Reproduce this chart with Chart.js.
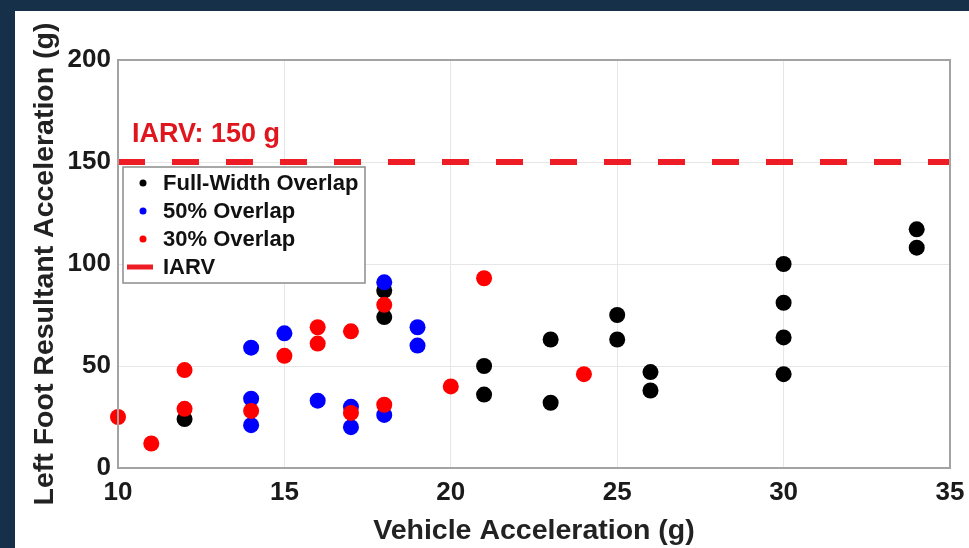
<!DOCTYPE html>
<html>
<head>
<meta charset="utf-8">
<script src="https://cdn.jsdelivr.net/npm/chart.js@4.4.1/dist/chart.umd.min.js"></script>
<style>
  html, body { margin: 0; padding: 0; }
  body { width: 969px; height: 548px; background: #17304a; position: relative; overflow: hidden; }
  #panel { position: absolute; left: 15px; top: 11px; width: 954px; height: 537px; background: #fff; }
</style>
</head>
<body>
<div id="panel"><canvas id="myChart" width="954" height="537"></canvas></div>
<script>
// data
let fullX = [12, 18, 18, 21, 21, 23, 23, 25, 25, 26, 26, 30, 30, 30, 30, 34, 34];
let fullY = [24, 87, 74, 50, 36, 63, 32, 75, 63, 47, 38, 100, 81, 64, 46, 117, 108];
let blueX = [14, 14, 14, 15, 16, 17, 17, 18, 18, 19, 19];
let blueY = [59, 34, 21, 66, 33, 30, 20, 91, 26, 69, 60];
let redX = [10, 11, 12, 12, 14, 15, 16, 16, 17, 17, 18, 18, 20, 21, 24];
let redY = [25, 12, 48, 29, 28, 55, 69, 61, 67, 27, 80, 31, 40, 93, 46];
let iarvX = [10, 35];
let iarvY = [150, 150];
let labels = ['Full-Width Overlap', '50% Overlap', '30% Overlap', 'IARV'];
let colors = ['#000000', '#0000ff', '#ff0000', '#ee1c25'];

function pts(xs, ys) {
    let out = [];
    for (var i = 0; i < xs.length; i++) {
        out.push({x: xs[i], y: ys[i]});
    }
    return out;
}

const FONT = '"Liberation Sans", Arial, sans-serif';

// box around plot, legend and IARV note
let extras = {
    id: 'extras',
    afterDatasetsDraw(chart) {
        let ctx = chart.ctx;
        let a = chart.chartArea;
        ctx.save();
        ctx.strokeStyle = '#a3a3a3';
        ctx.lineWidth = 2;
        ctx.strokeRect(a.left, a.top, a.right - a.left, a.bottom - a.top);

        // IARV note
        let yS = chart.scales.y;
        let xS = chart.scales.x;
        ctx.fillStyle = '#e0161e';
        ctx.font = 'bold 27px ' + FONT;
        ctx.textBaseline = 'alphabetic';
        ctx.fillText('IARV: 150 g', xS.getPixelForValue(10) + 14, yS.getPixelForValue(150) - 20);

        // legend
        let lx = 108, ly = 156, lw = 242, lh = 116;
        ctx.fillStyle = '#ffffff';
        ctx.fillRect(lx, ly, lw, lh);
        ctx.strokeStyle = '#8c8c8c';
        ctx.lineWidth = 1.5;
        ctx.strokeRect(lx, ly, lw, lh);
        ctx.font = 'bold 22px ' + FONT;
        ctx.textBaseline = 'middle';
        chart.data.datasets.forEach((ds, i) => {
            let cy = ly + 16 + i * 28;
            if (ds.showLine) {
                ctx.strokeStyle = ds.borderColor;
                ctx.lineWidth = 5;
                ctx.beginPath();
                ctx.moveTo(lx + 4, cy);
                ctx.lineTo(lx + 30, cy);
                ctx.stroke();
            } else {
                ctx.fillStyle = ds.backgroundColor;
                ctx.beginPath();
                ctx.arc(lx + 20, cy, 3.5, 0, Math.PI * 2);
                ctx.fill();
            }
            ctx.fillStyle = '#111111';
            ctx.fillText(ds.label, lx + 40, cy + 1);
        });
        ctx.restore();
    }
};

let tickFont = {family: FONT, size: 26, weight: 'bold'};
let titleFont = {family: FONT, size: 28.5, weight: 'bold'};

let chart = new Chart(document.getElementById('myChart').getContext('2d'), {
    type: 'scatter',
    data: {
        datasets: [
            {label: labels[0], data: pts(fullX, fullY), backgroundColor: colors[0], pointRadius: 8, pointBorderWidth: 0, order: 3, clip: false},
            {label: labels[1], data: pts(blueX, blueY), backgroundColor: colors[1], pointRadius: 8, pointBorderWidth: 0, order: 2, clip: false},
            {label: labels[2], data: pts(redX, redY), backgroundColor: colors[2], pointRadius: 8, pointBorderWidth: 0, order: 1, clip: false},
            {label: labels[3], data: pts(iarvX, iarvY), showLine: true, borderColor: colors[3], backgroundColor: colors[3],
                borderWidth: 6, borderDash: [27, 27], pointRadius: 0, order: 0}
        ]
    },
    options: {
        responsive: false,
        animation: false,
        devicePixelRatio: 1,
        layout: {padding: {top: 49, right: 19, left: 0, bottom: 0}},
        plugins: {
            legend: {display: false},
            tooltip: {enabled: false}
        },
        scales: {
            x: {
                type: 'linear', min: 10, max: 35,
                ticks: {stepSize: 5, padding: 9, font: tickFont, color: '#1a1a1a', maxRotation: 0},
                grid: {color: '#e6e6e6', drawTicks: false},
                border: {display: false},
                title: {display: true, text: 'Vehicle Acceleration (g)', font: titleFont, color: '#222222', padding: {top: 0, bottom: 0}},
                afterFit: s => { s.height = 80; s.paddingLeft = 0; s.paddingRight = 0; }
            },
            y: {
                type: 'linear', min: 0, max: 200,
                ticks: {stepSize: 50, padding: 7, font: tickFont, color: '#1a1a1a'},
                grid: {color: '#e6e6e6', drawTicks: false},
                border: {display: false},
                title: {display: true, text: 'Left Foot Resultant Acceleration (g)', font: titleFont, color: '#222222', padding: {top: 13, bottom: 0}},
                afterFit: s => { s.width = 103; s.paddingTop = 0; s.paddingBottom = 0; }
            }
        }
    },
    plugins: [extras]
});
</script>
</body>
</html>
